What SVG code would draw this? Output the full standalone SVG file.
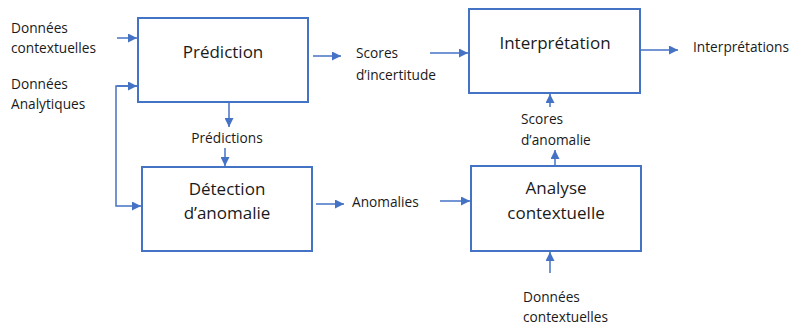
<svg xmlns="http://www.w3.org/2000/svg" width="790" height="327" viewBox="0 0 790 327">
<defs>
<style>
.box{fill:#fff;stroke:#4472C4;stroke-width:2}
.ln{fill:none;stroke:#4472C4;stroke-width:1.5}
.t{font-family:"Open Sans","Liberation Sans",sans-serif;fill:#1a1a1a}
.lb{font-size:13.7px}
.bt{font-size:17px;text-anchor:middle}
</style>
<marker id="ah" viewBox="0 0 10 10" refX="10" refY="5" markerWidth="9" markerHeight="9" markerUnits="userSpaceOnUse" orient="auto">
<path d="M0,0 L10,5 L0,10 z" fill="#4472C4"/>
</marker>
</defs>
<rect width="790" height="327" fill="#fff"/>
<g id="connectors">
<path class="ln" d="M117,38 H137" marker-end="url(#ah)"/>
<path class="ln" d="M137,86 H116 V206 H141" marker-end="url(#ah)"/>
<path class="ln" d="M117,86 H137" marker-end="url(#ah)"/>
<path class="ln" d="M229,102 V127" marker-end="url(#ah)"/>
<path class="ln" d="M225,148 V166" marker-end="url(#ah)"/>
<path class="ln" d="M313,56 H341" marker-end="url(#ah)"/>
<path class="ln" d="M430,53 H468" marker-end="url(#ah)"/>
<path class="ln" d="M641,50 H678" marker-end="url(#ah)"/>
<path class="ln" d="M316,204 H344" marker-end="url(#ah)"/>
<path class="ln" d="M440,201 H470" marker-end="url(#ah)"/>
<path class="ln" d="M550,273 V252" marker-end="url(#ah)"/>
<path class="ln" d="M555,166 V150" marker-end="url(#ah)"/>
<path class="ln" d="M550,107 V94" marker-end="url(#ah)"/>
</g>
<g id="prediction">
<rect class="box" x="138" y="18" width="170" height="84"/>
<text class="t bt" x="223" y="58">Prédiction</text>
</g>
<g id="detection">
<rect class="box" x="142" y="167" width="170" height="84"/>
<text class="t bt" x="227" y="195">Détection</text>
<text class="t bt" x="227" y="219">d’anomalie</text>
</g>
<g id="interpretation">
<rect class="box" x="469" y="9" width="171" height="84"/>
<text class="t bt" x="555" y="49">Interprétation</text>
</g>
<g id="analyse">
<rect class="box" x="471" y="166" width="170" height="85"/>
<text class="t bt" x="556" y="194">Analyse</text>
<text class="t bt" x="556" y="219">contextuelle</text>
</g>
<g id="labels">
<text class="t lb" x="11" y="33">Données</text>
<text class="t lb" x="11" y="53">contextuelles</text>
<text class="t lb" x="11" y="89">Données</text>
<text class="t lb" x="11" y="109">Analytiques</text>
<text class="t lb" x="227" y="143" text-anchor="middle">Prédictions</text>
<text class="t lb" x="356" y="58">Scores</text>
<text class="t lb" x="356" y="80">d’incertitude</text>
<text class="t lb" x="693" y="52">Interprétations</text>
<text class="t lb" x="521" y="124">Scores</text>
<text class="t lb" x="521" y="145">d’anomalie</text>
<text class="t lb" x="352" y="207">Anomalies</text>
<text class="t lb" x="523" y="302">Données</text>
<text class="t lb" x="523" y="322">contextuelles</text>
</g>
</svg>
